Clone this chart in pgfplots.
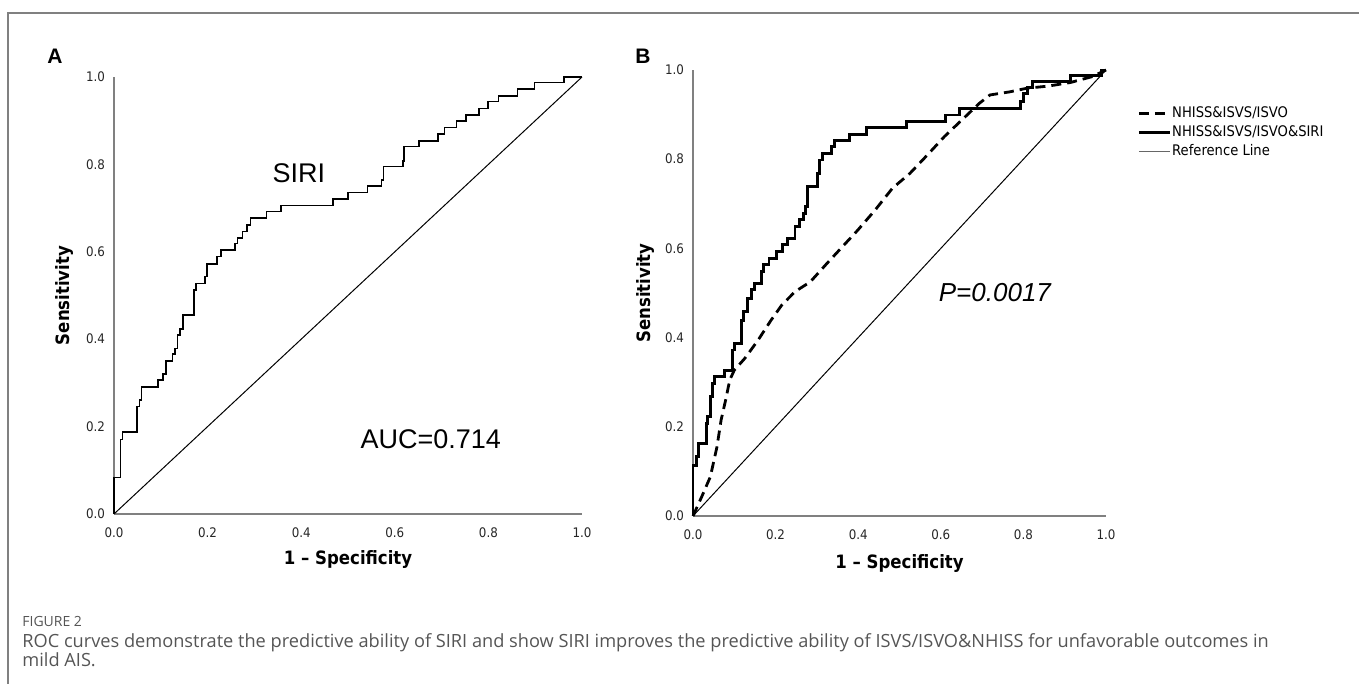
\documentclass[border=0pt]{standalone}
\usepackage{fontspec}
\setmainfont{Liberation Sans}
\newfontfamily\dvc[FakeStretch=0.9]{DejaVu Sans}
\newfontfamily\capfont{Open Sans}
\usepackage{pgfplots}
\pgfplotsset{compat=1.18}
\definecolor{axisgray}{HTML}{808080}
\definecolor{capgray}{HTML}{555555}

\pgfplotsset{
  rocaxis/.style={
    scale only axis, anchor=south west,
    xmin=0, xmax=1, ymin=0, ymax=1,
    axis lines*=left,
    axis line style={axisgray, line width=1pt},
    xtick={0,0.2,0.4,0.6,0.8,1}, ytick={0,0.2,0.4,0.6,0.8,1},
    major tick length=0pt,
    tick label style={font=\dvc\fontsize{6.6}{7.5}\selectfont, text=black!85},
    /pgf/number format/fixed, /pgf/number format/fixed zerofill,
    /pgf/number format/precision=1,
    /pgf/number format/assume math mode=true,
    xticklabel style={yshift=-3.2pt},
    yticklabel style={xshift=-1pt},
    label style={font=\dvc\bfseries\fontsize{9.2}{10}\selectfont},
    clip=false,
  },
}

\begin{document}
\begin{tikzpicture}[x=0.5pt,y=0.5pt]
\useasboundingbox (0,0) rectangle (1359,684);
% frame (top and left edges)
\draw[axisgray, line width=0.8pt] (8,0) -- (8,671) -- (1359,671);

% ---- panel A ----
\begin{axis}[rocaxis, at={(57pt,85pt)}, width=234pt, height=218.5pt,
  xlabel={1 – Specificity}, ylabel={Sensitivity},
  xlabel style={at={(axis description cs:0.5,0)}, yshift=-23pt, anchor=center},
  ylabel style={at={(axis description cs:-0.105,0.5)}, anchor=center}]
\addplot[black, line width=0.75pt, const plot mark right] coordinates {
  (0,0) (0.014,0.083) (0.018,0.171) (0.049,0.188) (0.055,0.246) (0.059,0.261)
  (0.094,0.291) (0.105,0.307) (0.111,0.32) (0.125,0.35) (0.13,0.366) (0.136,0.379)
  (0.141,0.41) (0.147,0.423) (0.171,0.455) (0.175,0.513) (0.194,0.528) (0.199,0.543)
  (0.22,0.572) (0.229,0.589) (0.259,0.604) (0.264,0.619) (0.275,0.632) (0.284,0.646)
  (0.292,0.661) (0.326,0.677) (0.357,0.692) (0.468,0.706) (0.5,0.721) (0.542,0.736)
  (0.572,0.751) (0.576,0.764) (0.618,0.795) (0.62,0.808) (0.652,0.841) (0.692,0.854)
  (0.706,0.87) (0.732,0.884) (0.752,0.899) (0.78,0.913) (0.799,0.928) (0.822,0.944)
  (0.862,0.957) (0.899,0.973) (0.961,0.987) (1,1)
};
\addplot[black, line width=0.5pt] coordinates {(0,0) (1,1)};
\node[font=\fontsize{13.5}{15}\selectfont] at (axis cs:0.395,0.78) {SIRI};
\node[font=\fontsize{13.5}{15}\selectfont] at (axis cs:0.677,0.172) {AUC=0.714};
\end{axis}

% ---- panel B ----
\begin{axis}[rocaxis, at={(346.5pt,84pt)}, width=206.5pt, height=223pt,
  xlabel={1 – Specificity}, ylabel={Sensitivity},
  xlabel style={at={(axis description cs:0.5,0)}, yshift=-23.5pt, anchor=center},
  ylabel style={at={(axis description cs:-0.114,0.5)}, anchor=center},
  legend image code/.code={\draw[#1] (0pt,0pt) -- (15.5pt,0pt);},
  legend style={at={(axis description cs:1.075,0.923)}, anchor=north west,
    draw=none, fill=none, inner sep=0pt, row sep=1pt,
    font=\dvc\fontsize{7.3}{8}\selectfont,
    nodes={inner sep=0.5pt, text height=6pt, text depth=1.5pt},
    cells={anchor=west}}]
\addplot[black, line width=1.4pt, dash pattern=on 5pt off 3pt] coordinates {
  (0,0) (0.021,0.043) (0.042,0.088) (0.058,0.155) (0.068,0.215) (0.079,0.26)
  (0.089,0.305) (0.1,0.327) (0.126,0.354) (0.158,0.395) (0.189,0.439) (0.215,0.473)
  (0.247,0.503) (0.284,0.525) (0.325,0.567) (0.362,0.604) (0.399,0.641) (0.441,0.686)
  (0.483,0.735) (0.525,0.768) (0.567,0.809) (0.609,0.851) (0.651,0.888) (0.693,0.925)
  (0.719,0.944) (0.767,0.951) (0.808,0.959) (0.861,0.964) (0.914,0.972) (0.966,0.985)
  (1,1)
};
\addlegendentry{NHISS\&ISVS/ISVO}
\addplot[black, line width=1.4pt, const plot mark right] coordinates {
  (0,0) (0.008,0.114) (0.014,0.133) (0.032,0.163) (0.036,0.208) (0.042,0.223)
  (0.047,0.268) (0.052,0.297) (0.077,0.312) (0.095,0.327) (0.1,0.372) (0.118,0.387)
  (0.123,0.439) (0.131,0.458) (0.142,0.488) (0.149,0.507) (0.166,0.522) (0.17,0.548)
  (0.184,0.563) (0.202,0.578) (0.217,0.593) (0.229,0.608) (0.247,0.623) (0.258,0.649)
  (0.268,0.664) (0.273,0.679) (0.278,0.694) (0.302,0.738) (0.307,0.768) (0.313,0.798)
  (0.336,0.812) (0.343,0.828) (0.378,0.842) (0.42,0.856) (0.517,0.871) (0.611,0.884)
  (0.646,0.899) (0.793,0.914) (0.8,0.93) (0.81,0.948) (0.822,0.96) (0.914,0.974)
  (0.99,0.987) (1,1)
};
\addlegendentry{NHISS\&ISVS/ISVO\&SIRI}
\addplot[black, line width=0.5pt, forget plot] coordinates {(0,0) (1,1)};
\addlegendimage{black!60, line width=0.6pt}
\addlegendentry{Reference Line}
\node[font=\itshape\fontsize{13}{15}\selectfont] at (axis cs:0.731,0.5) {P=0.0017};
\end{axis}

% panel letters
\node[font=\bfseries\fontsize{10.5}{12}\selectfont] at (55,628) {A};
\node[font=\bfseries\fontsize{10.5}{12}\selectfont] at (643,628) {B};

% caption
\node[anchor=base west, inner sep=0, text=capgray, font=\capfont\fontsize{7}{8}\selectfont]
  at (22,684-627) {FIGURE 2};
\node[anchor=base west, inner sep=0, text=capgray, font=\capfont\fontsize{9.1}{10}\selectfont]
  at (22,684-648) {ROC curves demonstrate the predictive ability of SIRI and show SIRI improves the predictive ability of ISVS/ISVO\&NHISS for unfavorable outcomes in};
\node[anchor=base west, inner sep=0, text=capgray, font=\capfont\fontsize{9.1}{10}\selectfont]
  at (22,684-667) {mild AIS.};
\end{tikzpicture}
\end{document}
